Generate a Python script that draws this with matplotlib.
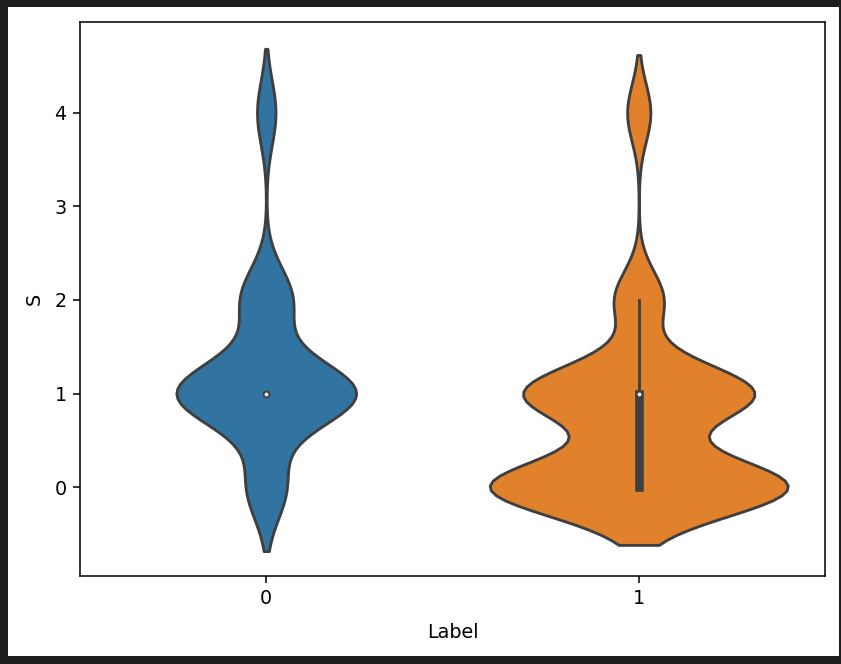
import numpy as np
import pandas as pd
import matplotlib
matplotlib.use("Agg")
import matplotlib.pyplot as plt
import seaborn as sns
from matplotlib.patches import Rectangle

# ---- data (counts of each S value per Label) ----
s_values = [0, 1, 2, 4]
label0_counts = [19, 87, 25, 9]
label1_counts = [115, 89, 19, 9]
label_names = [0, 1]
colors = ["#3274a1", "#e1812c"]
line_gray = "#3f3f3f"

SC = 1.38  # overall size scale of the reference
plt.rcParams.update({
    "font.size": 10 * SC,
    "axes.linewidth": 0.8 * SC,
    "xtick.major.size": 3.5 * SC, "ytick.major.size": 3.5 * SC,
    "xtick.major.width": 0.8 * SC, "ytick.major.width": 0.8 * SC,
    "xtick.major.pad": 3.5 * SC, "ytick.major.pad": 3.5 * SC,
})

df = pd.DataFrame({
    "Label": np.concatenate([np.full(sum(label0_counts), label_names[0]),
                             np.full(sum(label1_counts), label_names[1])]),
    "S": np.concatenate([np.repeat(s_values, label0_counts),
                         np.repeat(s_values, label1_counts)]).astype(float),
})

fig = plt.figure(figsize=(8.41, 6.64), dpi=100, facecolor="#1e1e1e")
fig.patches.append(Rectangle((8 / 841, 8 / 664), 831 / 841, 649 / 664,
                             transform=fig.transFigure, facecolor="white",
                             edgecolor="none", zorder=-1))
ax = fig.add_axes([80 / 841, 88 / 664, 745 / 841, 554 / 664])

lw = 1.5 * SC
ver = tuple(int(v) for v in sns.__version__.split(".")[:2])
if ver >= (0, 13):
    sns.violinplot(data=df, x="Label", y="S", hue="Label",
                   palette=dict(zip(label_names, colors)), saturation=1,
                   density_norm="count", common_norm=True, legend=False,
                   linewidth=lw, linecolor=line_gray,
                   inner_kws=dict(box_width=3 * lw, whis_width=lw),
                   ax=ax)
    # median marker: white dot with gray edge
    for ln in ax.lines:
        if ln.get_marker() in ("_", "|"):
            ln.set_marker("o")
            ln.set_markersize(2 * lw)
            ln.set_markerfacecolor("white")
            ln.set_markeredgecolor(line_gray)
            ln.set_markeredgewidth(1.0 * SC)
            ln.set_zorder(5)
else:
    sns.violinplot(data=df, x="Label", y="S", palette=colors, saturation=1,
                   scale="count", linewidth=lw, ax=ax)

ax.set_ylim(-0.95, 4.97)
ax.set_xlabel("Label", labelpad=10.5)
ax.set_ylabel("S", labelpad=7.5)

fig.savefig("out.png", dpi=100, facecolor=fig.get_facecolor())
